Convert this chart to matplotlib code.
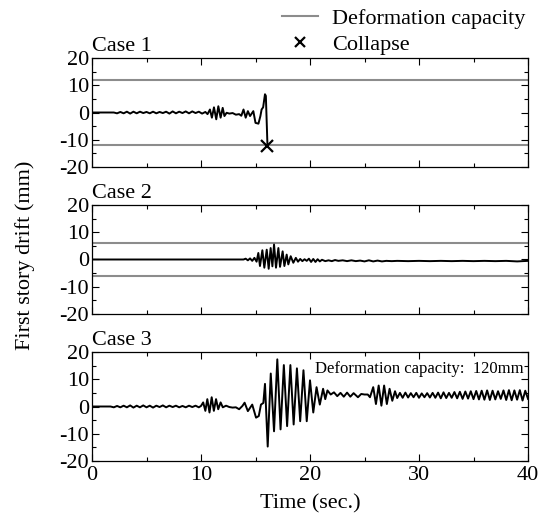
import numpy as np
import matplotlib
matplotlib.use("Agg")
import matplotlib.pyplot as plt
from matplotlib.lines import Line2D
from matplotlib.ticker import MultipleLocator

plt.rcParams['font.family'] = ['Liberation Serif', 'DejaVu Serif']
plt.rcParams['mathtext.fontset'] = 'stix'

# Case 1 (collapse at ~16.1 s)
t1 = [0, 2.0, 2.3, 2.6, 2.9, 3.2, 3.5, 3.8, 4.1, 4.4,
      4.7, 5.0, 5.3, 5.6, 5.9, 6.2, 6.5, 6.8, 7.1, 7.4,
      7.7, 8.0, 8.3, 8.6, 8.9, 9.2, 9.5, 9.8, 10.1, 10.4,
      10.6, 10.82, 11.0, 11.19, 11.4, 11.59, 11.8, 11.99, 12.15, 12.35,
      12.6, 12.9, 13.2, 13.5, 13.7, 13.9, 14.1, 14.3, 14.5, 14.8,
      15.0, 15.27, 15.45, 15.56, 15.7, 15.87, 15.95, 16.1]
y1 = [0, 0, -0.3, 0.2, -0.3, 0.3, -0.4, 0.3, -0.3, 0.3,
      -0.2, 0.2, -0.3, 0.3, -0.3, 0.2, -0.2, 0.3, -0.4, 0.4,
      -0.3, 0.3, -0.2, 0.4, -0.3, 0.4, -0.2, 0.3, -0.4, 0.2,
      -0.6, 1.1, -1.9, 1.9, -2.5, 2.3, -1.9, 1.7, -1.3, -0.1,
      -0.4, -0.2, -0.8, -0.6, -1.2, 1.1, -1.9, 0.5, -1.3, 0.5,
      -3.8, -4.1, -1.3, 1.1, 1.9, 6.7, 6.1, -12.4]
collapse_t = [16.1]
collapse_y = [-12.4]
cap1 = 12

# Case 2
t2 = [0, 11.0, 13.9, 14.1, 14.3, 14.5, 14.7, 14.9, 15.1,
      15.26, 15.41, 15.63, 15.81, 16.03, 16.21, 16.39, 16.55, 16.70,
      16.88, 17.1, 17.25, 17.49, 17.65, 17.86, 18.01, 18.23, 18.47,
      18.7, 18.9, 19.1, 19.3, 19.5, 19.7, 19.9, 20.1, 20.3, 20.5,
      20.7, 20.9, 21.1, 21.4, 21.7, 22.0, 22.3, 22.6, 23.0, 23.4,
      23.8, 24.2, 24.6, 25.0, 25.4, 25.8, 26.2, 26.6, 27.0, 27.5,
      28, 29, 30, 31, 32, 33, 34, 35, 36, 37,
      38, 39, 40]
y2 = [0, 0, 0, 0.3, -0.3, 0.4, -0.5, 0.6, -0.8,
      2.4, -2.4, 3.4, -3.0, 3.6, -3.4, 4.2, -2.5, 5.5,
      -3.0, 4.2, -2.7, 3.0, -2.4, 1.8, -1.8, 1.2, -1.2,
      0.6, -0.8, 0.2, -0.6, 0.1, -0.5, 0.3, -0.9, 0.2, -0.9,
      0.1, -0.7, -0.1, -0.6, -0.3, -0.6, -0.2, -0.5, -0.3, -0.6,
      -0.3, -0.6, -0.4, -0.7, -0.3, -0.7, -0.4, -0.7, -0.5, -0.6,
      -0.5, -0.6, -0.5, -0.6, -0.5, -0.6, -0.5, -0.6, -0.5, -0.6,
      -0.5, -0.7, -0.5]
cap2 = 6

# Case 3 (deformation capacity 120 mm, off scale)
t3 = [0, 1.7, 2.0, 2.3, 2.6, 2.9, 3.2, 3.5, 3.8, 4.1,
      4.4, 4.7, 5.0, 5.3, 5.6, 5.9, 6.2, 6.5, 6.8, 7.1,
      7.4, 7.7, 8.0, 8.3, 8.6, 8.9, 9.2, 9.5, 9.8, 10.0,
      10.2, 10.4, 10.58, 10.78, 10.98, 11.18, 11.38, 11.58, 11.8, 12.0,
      12.3, 12.6, 12.9, 13.2, 13.5, 13.8, 14.0, 14.3, 14.7, 15.05,
      15.3, 15.5, 15.72, 15.87, 16.12, 16.4, 16.7, 17.0, 17.3, 17.6,
      17.9, 18.2, 18.5, 18.8, 19.1, 19.4, 19.7, 20.0, 20.3, 20.6,
      20.9, 21.2, 21.4, 21.6, 21.9, 22.2, 22.5, 22.8, 23.1, 23.4,
      23.7, 24.0, 24.4, 24.7, 25.0, 25.3, 25.5, 25.8, 26.05, 26.3,
      26.55, 26.8, 27.05, 27.3, 27.55, 27.8, 28.0, 28.25, 28.5, 28.75,
      29.0, 29.25, 29.5, 29.75, 30.0, 30.25, 30.5, 30.75, 31.0, 31.25,
      31.5, 31.75, 32.0, 32.25, 32.5, 32.75, 33.0, 33.25, 33.5, 33.75,
      34.0, 34.25, 34.5, 34.75, 35.0, 35.25, 35.5, 35.75, 36.0, 36.25,
      36.5, 36.75, 37.0, 37.25, 37.5, 37.75, 38.0, 38.25, 38.5, 38.75,
      39.0, 39.25, 39.5, 39.75, 40.0]
y3 = [0, 0, -0.3, 0.2, -0.3, 0.3, -0.3, 0.4, -0.4, 0.3,
      -0.3, 0.4, -0.3, 0.3, -0.4, 0.3, -0.2, 0.4, -0.3, 0.3,
      -0.2, 0.3, -0.3, 0.2, -0.3, 0.3, -0.2, 0.3, -0.3, 0.2,
      1.5, -1.6, 2.7, -2.2, 3.4, -1.6, 2.7, -1.0, 1.5, -0.3,
      0.3, -0.2, -0.4, -0.3, -1.0, 0.2, 1.4, -1.7, 0.7, -4.1,
      -3.5, 0.7, 1.3, 8.3, -14.7, 12.1, -9.1, 17.3, -8.4, 15.2,
      -7.2, 15.2, -6.6, 14.0, -5.4, 13.3, -5.4, 9.6, -2.2, 7.1,
      0.7, 6.5, 2.7, 5.9, 4.4, 5.2, 3.8, 5.0, 3.6, 5.1,
      3.6, 4.9, 3.4, 4.6, 4.4, 4.4, 3.4, 7.1, 0.9, 7.7,
      0.3, 7.7, 0.9, 6.5, 2.1, 5.6, 3.1, 5.0, 3.2, 5.1,
      3.3, 4.9, 3.4, 5.0, 3.2, 4.8, 3.4, 4.9, 3.3, 5.0,
      3.2, 5.1, 3.0, 5.2, 3.1, 5.0, 3.2, 5.3, 3.0, 5.4,
      2.8, 5.5, 2.9, 5.6, 2.7, 5.7, 2.6, 5.8, 2.5, 5.9,
      2.4, 5.8, 2.6, 5.6, 2.8, 5.9, 2.4, 6.0, 2.3, 5.9,
      2.5, 6.0, 2.2, 5.8, 2.8]

cases = [("Case 1", t1, y1, cap1), ("Case 2", t2, y2, cap2), ("Case 3", t3, y3, None)]

W, H = 544, 521
fig = plt.figure(figsize=(W / 100, H / 100), dpi=100)

ax_left = 92 / W
ax_w = 436 / W
ax_h = 109 / H
tops = [58, 205, 352]
gray = '#8c8c8c'
fs = 16

axes = []
for i, (name, t, y, cap) in enumerate(cases):
    ax = fig.add_axes([ax_left, 1 - (tops[i] + 109) / H, ax_w, ax_h])
    if cap is not None:
        ax.axhline(cap, color=gray, lw=1.5, zorder=1)
        ax.axhline(-cap, color=gray, lw=1.5, zorder=1)
    ax.plot(t, y, color='black', lw=1.4, zorder=2)
    ax.set_xlim(0, 40)
    ax.set_ylim(-20, 20)
    ax.xaxis.set_major_locator(MultipleLocator(10))
    ax.xaxis.set_minor_locator(MultipleLocator(5))
    ax.yaxis.set_major_locator(MultipleLocator(10))
    ax.yaxis.set_minor_locator(MultipleLocator(5))
    ax.tick_params(which='both', direction='in', top=True, right=True, labelsize=fs, width=0.8)
    ax.tick_params(which='major', length=5)
    ax.tick_params(which='minor', length=3)
    ax.tick_params(axis='y', pad=2)
    if i < 2:
        ax.tick_params(labelbottom=False)
    for s in ax.spines.values():
        s.set_linewidth(0.9)
    ax.set_yticks([-20, -10, 0, 10, 20])
    ax.set_yticklabels(['-20', '-10', '0', '10', '20'])
    ax.text(0.0, 1.02, name, transform=ax.transAxes, ha='left', va='bottom', fontsize=fs)
    axes.append(ax)

axes[0].plot(collapse_t, collapse_y, marker='x', color='black', ms=8, mew=1.6, ls='none', zorder=3)
axes[2].text(0.99, 0.84, "Deformation capacity:  120mm", transform=axes[2].transAxes,
             ha='right', va='center', fontsize=12)
axes[2].set_xlabel("Time (sec.)", fontsize=fs, labelpad=7)

fig.text(25 / W, 1 - 255 / H, "First story drift (mm)", rotation=90, ha='center', va='center', fontsize=fs)

handles = [Line2D([], [], color=gray, lw=1.5),
           Line2D([], [], color='black', marker='x', ls='none', ms=7, mew=1.6)]
fig.legend(handles, ["Deformation capacity", "Collapse"], loc='upper left',
           bbox_to_anchor=(280 / W, 1 - 6 / H), frameon=False, fontsize=fs,
           handlelength=1.6, handletextpad=0.65, labelspacing=0.25,
           borderpad=0.1, borderaxespad=0)

fig.savefig("out.png", dpi=100)
